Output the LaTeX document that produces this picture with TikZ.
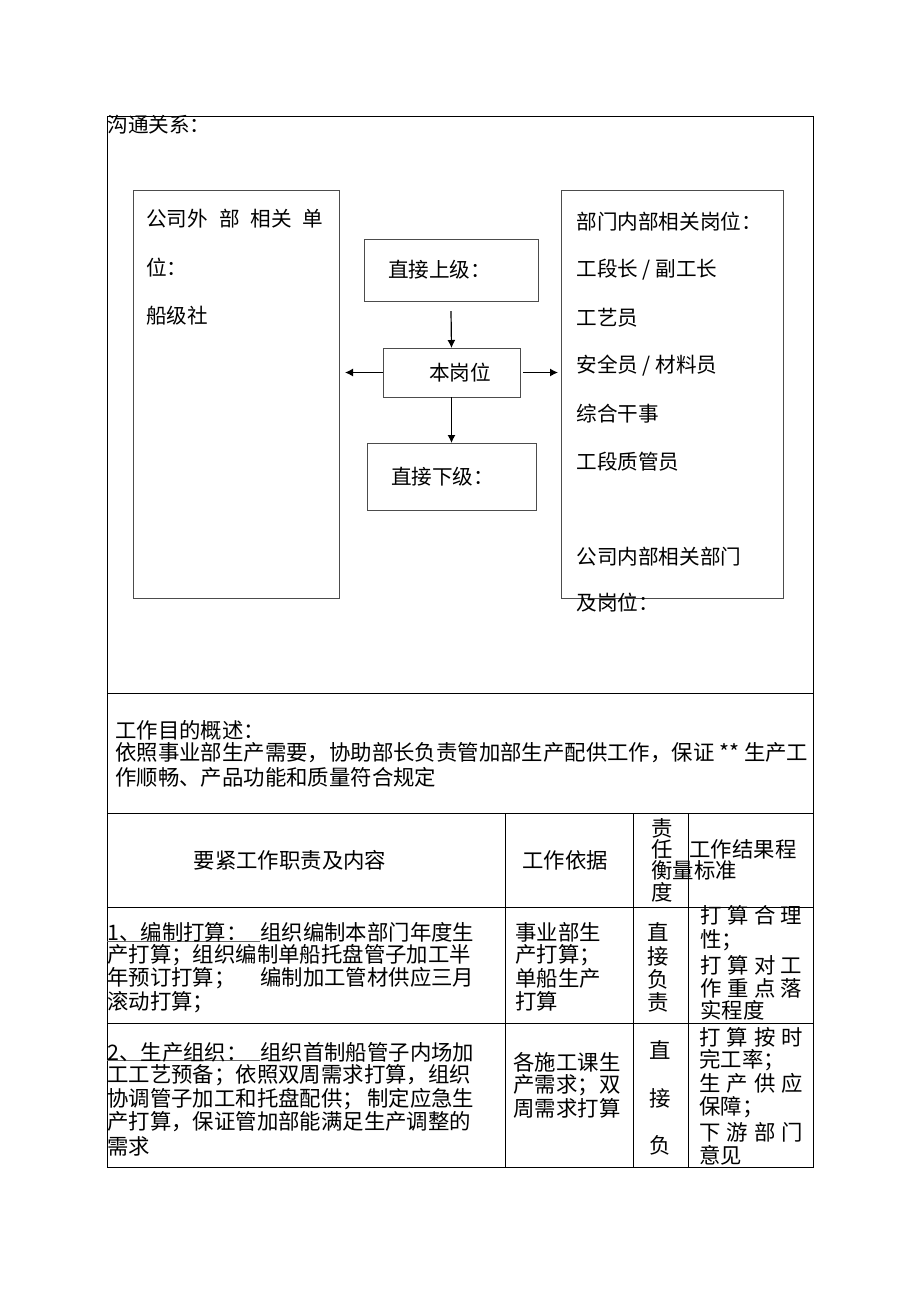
\documentclass[tikz,border=0pt]{standalone}
\usepackage{fontspec}
\setmainfont{Noto Sans CJK SC}
\usetikzlibrary{arrows.meta}

\begin{document}
\begin{tikzpicture}[
        x=0.5pt, y=-0.5pt,
        box/.style = {draw=black!70, line width=0.5pt,% frames of the chart
                inner sep=0pt, outer sep=0pt, anchor=north west,
                font=\fontsize{10.3pt}{12pt}\selectfont},
        T/.style = {inner sep=0pt, anchor=west,
                font=\fontsize{10.3pt}{12pt}\selectfont},
        C/.style = {inner sep=0pt, anchor=west,
                font=\fontsize{10.7pt}{12pt}\selectfont},
        V/.style = {C, anchor=center},
        arr/.style = {-{Latex[length=4pt,width=4pt]}, line width=0.6pt},
        grid/.style = {line width=0.5pt},
    ]
    \useasboundingbox (0,0) rectangle (920,1303);
    % outer frame and table rules
    \draw[grid] (107,116) rectangle (813,1167);
    \foreach \y in {693,813,907,1023}
        \draw[grid] (107,\y) -- (813,\y);
    \foreach \x in {505,633,688}
        \draw[grid] (\x,813) -- (\x,1167);
    \foreach \y in {941,1060}
        \draw[black!60, line width=0.4pt] (107,\y) -- (260,\y);

    % communication chart
    \node[T] (title) at (107,125) {沟通关系：};
    \node[box, minimum width=103pt, minimum height=204pt] (ext) at (133,190) {};
    \node[box, minimum width=111pt, minimum height=204pt] (int) at (561,190) {};
    \node[box, minimum height=31pt, inner xsep=12pt, text width=63pt,
          align=left] (up) at (364,239) {直接上级：};
    \node[box, minimum height=24.5pt, inner xsep=14.5pt, text width=39.5pt,
          align=right] (me) at (383,348) {本岗位};
    \node[box, minimum height=33.5pt, inner xsep=12pt, text width=60.5pt,
          align=left] (low) at (367,443) {直接下级：};
    \draw[arr] ([yshift=-5pt]up.south) -- (me.north);
    \draw[arr] (me.south) -- (low.north);
    \draw[arr] (me.west) -- ([xshift=3pt]ext.east |- me.west);
    \draw[arr] ([xshift=1.5pt]me.east) -- ([xshift=-1.5pt]int.west |- me.east);

    \node[T] (e1) at (146,219) {\makebox[88.5pt]{公司外\hfill 部\hfill 相关\hfill 单}};
    \node[T] (e2) at (146,268) {位：};
    \node[T] (e3) at (146,316) {船级社};
    \foreach \t [count=\i from 0] in {部门内部相关岗位：,工段长 / 副工长,工艺员,
            安全员 / 材料员,综合干事,工段质管员}
        \node[T] (i\i) at (576,222+48*\i) {\t};
    \node[T] (i6) at (576,557) {公司内部相关部门};
    \node[T] (i7) at (576,603) {及岗位：};

    % aim of the work
    \node[C] (aim) at (115,730) {工作目的概述：};
    \node[C] (aim1) at (115,753) {依照事业部生产需要，协助部长负责管加部生产配供工作，保证 ** 生产工};
    \node[C] (aim2) at (115,777) {作顺畅、产品功能和质量符合规定};

    % table head
    \node[V] (h1) at (290,860) {要紧工作职责及内容};
    \node[V] (h2) at (565,860) {工作依据};
    \node[C] (h3) at (651,828) {责};
    \node[C] (h4) at (651,849) {任};
    \node[C] (h5) at (689,849) {工作结果程};
    \node[C] (h6) at (651,870) {衡量标准};
    \node[C] (h7) at (651,892) {度};

    % row 1
    \node[C] (a1) at (107,932) {\makebox[183.5pt]{1、编制打算：\hfill 组织编制本部门年度生}};
    \node[C] (a2) at (107,955) {产打算；组织编制单船托盘管子加工半};
    \node[C] (a3) at (107,978) {\makebox[183.5pt]{年预订打算；\hfill 编制加工管材供应三月}};
    \node[C] (a4) at (107,1002) {滚动打算；};
    \foreach \y/\t [count=\i] in {932/事业部生,955/产打算；,978/单船生产,1001/打算}
        \node[C] (b\i) at (515,\y) {\t};
    \foreach \y/\t [count=\i] in {932/直,956/接,979/负,1002/责}
        \node[V] (c\i) at (658,\y) {\t};
    \foreach \y/\t [count=\i] in {915/{\makebox[51pt]{打\hfill 算\hfill 合\hfill 理}},
            940/性；,965/{\makebox[51pt]{打\hfill 算\hfill 对\hfill 工}},
            988/{\makebox[51pt]{作\hfill 重\hfill 点\hfill 落}},1010/实程度}
        \node[C] (d\i) at (700,\y) {\t};

    % row 2
    \node[C] (p1) at (107,1052) {\makebox[183.5pt]{2、生产组织：\hfill 组织首制船管子内场加}};
    \node[C] (p2) at (107,1075) {工工艺预备；依照双周需求打算，组织};
    \node[C] (p3) at (107,1099) {\makebox[183.5pt]{协调管子加工和托盘配供；\hfill 制定应急生}};
    \node[C] (p4) at (107,1122) {产打算，保证管加部能满足生产调整的};
    \node[C] (p5) at (107,1146) {需求};
    \foreach \y/\t [count=\i] in {1062/各施工课生,1085/产需求；双,1108/周需求打算}
        \node[C] (q\i) at (513,\y) {\t};
    \foreach \y/\t [count=\i] in {1050/直,1098/接,1145/负}
        \node[V] (r\i) at (660,\y) {\t};
    \foreach \y/\t [count=\i] in {1037/{\makebox[52pt]{打\hfill 算\hfill 按\hfill 时}},
            1060/完工率；,1083/{\makebox[52pt]{生\hfill 产\hfill 供\hfill 应}},
            1107/保障；,1132/{\makebox[52pt]{下\hfill 游\hfill 部\hfill 门}},1155/意见}
        \node[C] (s\i) at (699,\y) {\t};
\end{tikzpicture}
\end{document}
